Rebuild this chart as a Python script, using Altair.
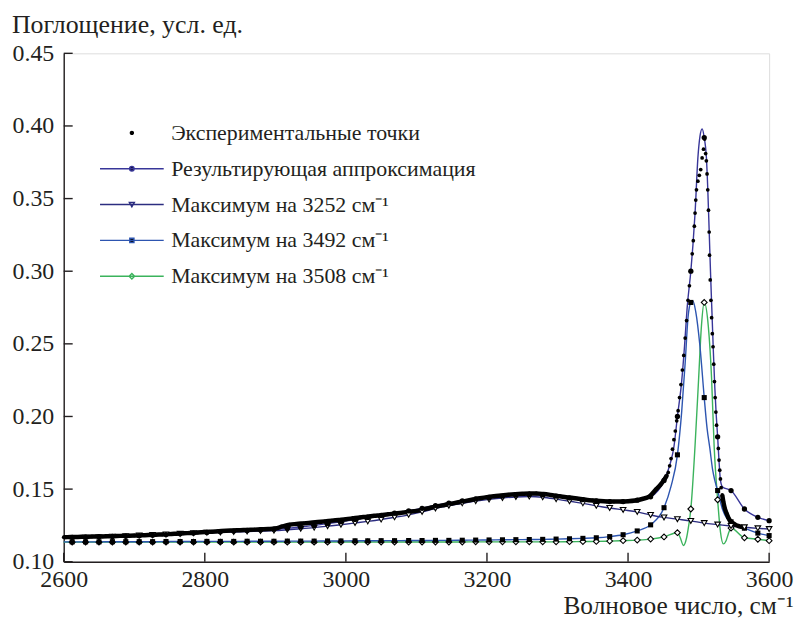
import altair as alt
import pandas as pd

FONT = "'Liberation Serif', 'Times New Roman', Times, serif"
TXT = "#231f20"

# ---------------- data ----------------
X_TICKS = [2600, 2800, 3000, 3200, 3400, 3600]
Y_TICKS = [0.10, 0.15, 0.20, 0.25, 0.30, 0.35, 0.40, 0.45]

# x positions of the markers
MARK_X = [2612, 2631, 2650, 2669, 2688, 2707, 2726, 2745, 2765, 2784, 2803, 2822, 2841,
          2860, 2879, 2898, 2917, 2936, 2955, 2974, 2993, 3013, 3031, 3050, 3069, 3089,
          3108, 3127, 3146, 3165, 3184, 3203, 3222, 3241, 3260, 3279, 3298, 3317, 3336,
          3355, 3374, 3393, 3413, 3432, 3451, 3470, 3489, 3508, 3527, 3546, 3565, 3584, 3600]

# resulting fit at marker positions
FIT_M = [0.1168, 0.1170, 0.1172, 0.1174, 0.1176, 0.1179, 0.1183, 0.1187, 0.1192, 0.1197,
         0.1202, 0.1207, 0.1211, 0.1215, 0.1219, 0.1224, 0.1230, 0.1239, 0.1250, 0.1262,
         0.1276, 0.1291, 0.1305, 0.1319, 0.1334, 0.1350, 0.1368, 0.1387, 0.1404, 0.1419,
         0.1432, 0.1443, 0.1452, 0.1459, 0.1463, 0.1461, 0.1452, 0.1440, 0.1428, 0.1419,
         0.1414, 0.1414, 0.1424, 0.1447, 0.1560, 0.2000, 0.3000, 0.3920, 0.1860, 0.1490,
         0.1363, 0.1306, 0.1283]
FIT_EX_X = [2600, 3460, 3465, 3476, 3480, 3484, 3492, 3495, 3499, 3502, 3505, 3511, 3513,
            3515, 3517, 3519, 3521, 3523, 3525, 3529, 3531, 3534]
FIT_EX_Y = [0.1167, 0.168, 0.179, 0.224, 0.248, 0.276, 0.318, 0.340, 0.378, 0.393, 0.398,
            0.379, 0.357, 0.328, 0.298, 0.271, 0.244, 0.220, 0.201, 0.169, 0.156, 0.1515]

# maximum at 3252
T_M = [0.1163, 0.1166, 0.1169, 0.1172, 0.1176, 0.1180, 0.1184, 0.1188, 0.1192, 0.1196,
       0.1199, 0.1202, 0.1205, 0.1208, 0.1211, 0.1214, 0.1220, 0.1227, 0.1235, 0.1245,
       0.1255, 0.1267, 0.1278, 0.1291, 0.1306, 0.1323, 0.1343, 0.1367, 0.1386, 0.1402,
       0.1417, 0.1429, 0.1439, 0.1446, 0.1449, 0.1444, 0.1431, 0.1416, 0.1402, 0.1385,
       0.1370, 0.1357, 0.1343, 0.1322, 0.1305, 0.1293, 0.1281, 0.1266, 0.1256, 0.1246,
       0.1237, 0.1230, 0.1225]
T_EX_X = [2600]
T_EX_Y = [0.1161]

# maximum at 3492
S_M = [0.1137, 0.1137, 0.1137, 0.1138, 0.1138, 0.1138, 0.1138, 0.1139, 0.1139, 0.1139,
       0.1140, 0.1140, 0.1140, 0.1141, 0.1141, 0.1141, 0.1142, 0.1142, 0.1142, 0.1143,
       0.1143, 0.1144, 0.1144, 0.1145, 0.1145, 0.1146, 0.1146, 0.1147, 0.1147, 0.1148,
       0.1149, 0.1150, 0.1151, 0.1152, 0.1153, 0.1154, 0.1156, 0.1158, 0.1161, 0.1165,
       0.1173, 0.1186, 0.1212, 0.1254, 0.1372, 0.1736, 0.2785, 0.2130, 0.1490, 0.1275,
       0.1231, 0.1197, 0.1180]
S_EX_X = [2600, 3461, 3476, 3481, 3485, 3492, 3496, 3502, 3512, 3516, 3520, 3523, 3534, 3540]
S_EX_Y = [0.1137, 0.152, 0.203, 0.237, 0.268, 0.2795, 0.272, 0.248, 0.192, 0.178, 0.163,
          0.156, 0.136, 0.130]

# maximum at 3508
D_M = [0.1135, 0.1135, 0.1135, 0.1135, 0.1135, 0.1135, 0.1135, 0.1135, 0.1135, 0.1135,
       0.1135, 0.1135, 0.1135, 0.1135, 0.1135, 0.1135, 0.1135, 0.1135, 0.1135, 0.1135,
       0.1136, 0.1136, 0.1136, 0.1136, 0.1136, 0.1136, 0.1136, 0.1136, 0.1136, 0.1136,
       0.1137, 0.1137, 0.1137, 0.1137, 0.1137, 0.1137, 0.1137, 0.1138, 0.1139, 0.1140,
       0.1142, 0.1145, 0.1149, 0.1156, 0.1171, 0.1200, 0.1363, 0.2785, 0.1427, 0.1232,
       0.1165, 0.1155, 0.1145]
D_EX_X = [2600, 3474, 3478.5, 3483, 3486, 3495, 3500, 3504, 3513.8, 3518.5, 3522, 3531,
          3535, 3539, 3542]
D_EX_Y = [0.1135, 0.1165, 0.1112, 0.1165, 0.125, 0.180, 0.2255, 0.262, 0.262, 0.2255, 0.180,
          0.1205, 0.1123, 0.1145, 0.119]

# experimental points
EXP_X = [2600, 2610, 2620, 2630, 2640, 2650, 2660, 2670, 2680, 2690, 2700, 2710, 2720, 2730,
         2740, 2750, 2760, 2770, 2780, 2790, 2800, 2810, 2820, 2830, 2840, 2850, 2860, 2870,
         2880, 2890, 2900, 2910, 2920, 2930, 2940, 2950, 2960, 2970, 2980, 2990, 3000, 3010,
         3020, 3030, 3040, 3050, 3060, 3070, 3080, 3090, 3100, 3110, 3120, 3130, 3140, 3150,
         3160, 3170, 3180, 3190, 3200, 3210, 3220, 3230, 3240, 3250, 3260, 3270, 3280, 3290,
         3300, 3310, 3320, 3330, 3340, 3350, 3360, 3370, 3380, 3390, 3400, 3410, 3420, 3430,
         3440, 3446, 3452, 3455, 3457, 3459, 3461, 3463, 3465, 3467, 3469, 3471, 3473, 3475,
         3477, 3479, 3481, 3483, 3485, 3487, 3489, 3491, 3492.5, 3494, 3495, 3496, 3497, 3499,
         3501, 3503, 3505, 3507, 3508.5, 3510, 3511, 3512, 3513, 3514, 3515, 3515.5, 3516.5,
         3517.5, 3518.5, 3519.5, 3520.5, 3521.5, 3522.5, 3523.5, 3524.5, 3525.5, 3527, 3528,
         3529, 3530, 3531, 3532, 3533.5, 3535, 3537, 3539.5, 3542, 3545, 3549, 3553, 3558, 3562]
EXP_Y = [0.1169, 0.1170, 0.1171, 0.1172, 0.1173, 0.1174, 0.1175, 0.1176, 0.1178, 0.1179,
         0.1180, 0.1182, 0.1184, 0.1186, 0.1188, 0.1190, 0.1193, 0.1196, 0.1198, 0.1201,
         0.1204, 0.1207, 0.1210, 0.1213, 0.1215, 0.1217, 0.1219, 0.1221, 0.1223, 0.1225,
         0.1229, 0.1243, 0.1255, 0.1260, 0.1264, 0.1268, 0.1273, 0.1278, 0.1283, 0.1288,
         0.1293, 0.1299, 0.1305, 0.1310, 0.1316, 0.1321, 0.1327, 0.1332, 0.1338, 0.1344,
         0.1350, 0.1361, 0.1372, 0.1382, 0.1391, 0.1400, 0.1410, 0.1419, 0.1428, 0.1437,
         0.1445, 0.1451, 0.1456, 0.1461, 0.1465, 0.1468, 0.1470, 0.1470, 0.1466, 0.1460,
         0.1453, 0.1446, 0.1440, 0.1433, 0.1427, 0.1422, 0.1418, 0.1415, 0.1414, 0.1414,
         0.1416, 0.1421, 0.1432, 0.1448,
         0.1500, 0.1530, 0.1570, 0.1595, 0.1615, 0.1660, 0.1710, 0.1775, 0.1840, 0.1900,
         0.1970, 0.2040, 0.2130, 0.2220, 0.2320, 0.2420, 0.2540, 0.2660, 0.2800, 0.2900,
         0.3000, 0.3120, 0.3210, 0.3310, 0.3400, 0.3490, 0.3560, 0.3620, 0.3660, 0.3700,
         0.3780, 0.3840, 0.3910, 0.3810, 0.3760, 0.3670, 0.3560, 0.3420, 0.3270, 0.3110,
         0.2940, 0.2800, 0.2680, 0.2570, 0.2480, 0.2360, 0.2240, 0.2130, 0.2030, 0.1940,
         0.1860, 0.1780, 0.1700, 0.1630, 0.1570, 0.1510, 0.1460, 0.1415, 0.1370, 0.1335,
         0.1305, 0.1280, 0.1265, 0.1252, 0.1244, 0.1238]

NAMES = ["Экспериментальные точки", "Результирующая аппроксимация",
         "Максимум на 3252 см⁻¹", "Максимум на 3492 см⁻¹", "Максимум на 3508 см⁻¹"]

# ---------------- styles ----------------
C_FIT = "#383699"
C_T = "#2c2d80"
C_S = "#2d55b0"
C_D = "#3bb35c"

W, H = 709, 511

XS = alt.Scale(domain=[2600, 3600], nice=False, zero=False)
YS = alt.Scale(domain=[0.10, 0.45], nice=False, zero=False)

AX_X = alt.Axis(values=X_TICKS, format="d", ticks=False, labelPadding=6,
                labelFont=FONT, labelFontSize=24, labelColor=TXT, labelFlush=False,
                labelOverlap=False, domainColor=TXT, domainWidth=1.4, grid=False,
                title="Волновое число, см⁻¹", titleFont=FONT, titleFontSize=25.5,
                titleFontWeight="normal", titleColor=TXT, titleAlign="right",
                titleBaseline="alphabetic", titleX=733, titleY=52)
AX_Y = alt.Axis(values=Y_TICKS, format=".2f", ticks=False, labelPadding=10,
                labelFont=FONT, labelFontSize=24, labelColor=TXT, labelFlush=False,
                labelOverlap=False, domainColor=TXT, domainWidth=1.4, grid=False,
                title="Поглощение, усл. ед.", titleFont=FONT, titleFontSize=26,
                titleFontWeight="normal", titleColor=TXT, titleAngle=0, titleAlign="left",
                titleBaseline="alphabetic", titleX=-52.6, titleY=-20.8)


def X():
    return alt.X("x:Q", scale=XS, axis=AX_X)


def Y():
    return alt.Y("y:Q", scale=YS, axis=AX_Y)


def build(mx, my, ex, ey):
    m = pd.DataFrame({"x": mx, "y": my})
    e = pd.DataFrame({"x": ex, "y": ey})
    line = pd.concat([m, e]).sort_values("x").reset_index(drop=True)
    return line, m


fit_line, fit_m = build(MARK_X, FIT_M, FIT_EX_X, FIT_EX_Y)
t_line, t_m = build(MARK_X, T_M, T_EX_X, T_EX_Y)
s_line, s_m = build(MARK_X, S_M, S_EX_X, S_EX_Y)
d_line, d_m = build(MARK_X, D_M, D_EX_X, D_EX_Y)

exp = pd.DataFrame({"x": EXP_X, "y": EXP_Y})
exp["seg"] = (exp["x"] > 3500).astype(int)
exp["band"] = ((exp["x"] <= 3455) | (exp["x"] >= 3533)).astype(int)


def line_layer(df, color):
    return alt.Chart(df).mark_line(color=color, strokeWidth=1.4, interpolate="monotone").encode(
        x=X(), y=Y())


lines = [line_layer(d_line, C_D), line_layer(s_line, C_S), line_layer(t_line, C_T),
         line_layer(fit_line, C_FIT)]

exp_band = alt.Chart(exp).transform_filter("datum.band == 1").mark_line(
    color="black", strokeWidth=4.5, interpolate="monotone").encode(
    x=X(), y=Y(), detail="seg:N")
exp_dots = alt.Chart(exp).mark_circle(color="black", size=14, opacity=1).encode(x=X(), y=Y())

d_pts = alt.Chart(d_m).mark_point(shape="diamond", size=34, filled=True, fill="white",
                                  stroke="black", strokeWidth=1.1, opacity=1).encode(x=X(), y=Y())
s_pts = alt.Chart(s_m).mark_point(shape="square", size=26, filled=True, color="black",
                                  opacity=1).encode(x=X(), y=Y())
t_pts = alt.Chart(t_m).mark_point(shape="triangle-down", size=32, filled=True, fill="white",
                                  stroke="black", strokeWidth=1.1, opacity=1).encode(x=X(), y=Y())
f_pts = alt.Chart(fit_m).mark_circle(size=28, color="black", opacity=1).encode(x=X(), y=Y())

xt = alt.Chart(pd.DataFrame({"x": X_TICKS})).mark_rule(color=TXT, strokeWidth=1.4).encode(
    x=X(), y=alt.value(H), y2=alt.value(H - 9))
yt = alt.Chart(pd.DataFrame({"y": Y_TICKS})).mark_rule(color=TXT, strokeWidth=1.4).encode(
    y=Y(), x=alt.value(0), x2=alt.value(9))

# legend
LINE = "M-6.4,0H6.4"
PATHS = [
    "M-0.3,0A0.3,0.3,0,1,0,0.3,0A0.3,0.3,0,1,0,-0.3,0Z",
    LINE + "M-0.45,0A0.45,0.45,0,1,0,0.45,0A0.45,0.45,0,1,0,-0.45,0Z",
    LINE + "M-0.5,-0.4L0.5,-0.4L0,0.45Z",
    LINE + "M-0.42,-0.42H0.42V0.42H-0.42Z",
    LINE + "M-0.55,0L0,-0.55L0.55,0L0,0.55Z",
]
STROKES = ["black", C_FIT, C_T, C_S, C_D]
FILLS = ["black", "black", "white", "black", "white"]

LEG = alt.Legend(orient="none", legendX=57.5, legendY=69, title=None, labelFont=FONT,
                 labelFontSize=22, labelColor=TXT, labelLimit=500, symbolSize=100,
                 symbolStrokeWidth=1.4, labelOffset=28.5, rowPadding=14, padding=0,
                 symbolOpacity=1)

leg = alt.Chart(pd.DataFrame({"s": NAMES})).transform_filter("false").mark_point(
    opacity=1, strokeWidth=1.4).encode(
    shape=alt.Shape("s:N", scale=alt.Scale(domain=NAMES, range=PATHS), legend=LEG),
    stroke=alt.Stroke("s:N", scale=alt.Scale(domain=NAMES, range=STROKES), legend=LEG),
    fill=alt.Fill("s:N", scale=alt.Scale(domain=NAMES, range=FILLS), legend=LEG),
)

chart = alt.layer(
    *lines, exp_band, exp_dots, d_pts, s_pts, t_pts, f_pts, xt, yt, leg
).properties(
    width=W, height=H,
    autosize=alt.AutoSizeParams(type="none"),
    padding={"left": 56, "top": 44, "right": 25, "bottom": 56},
).configure_view(stroke=None).configure(background="white")

chart.save("out.html", embed_options={"renderer": "svg", "actions": False})
